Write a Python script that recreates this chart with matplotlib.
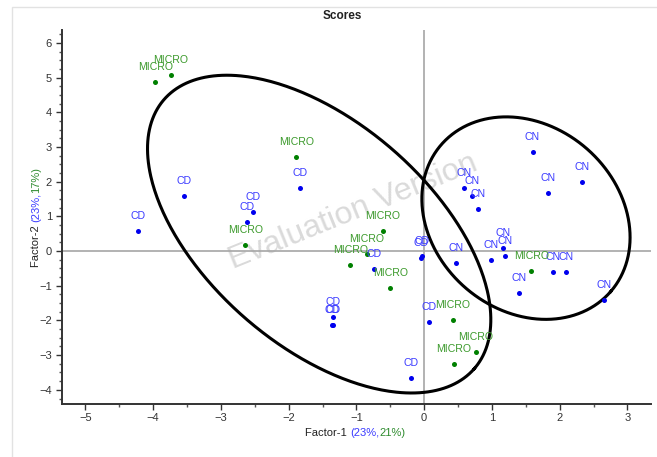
import matplotlib
matplotlib.use('Agg')
import matplotlib.pyplot as plt
import numpy as np
from matplotlib.patches import Rectangle
from matplotlib.ticker import MultipleLocator

plt.rcParams['font.family'] = ['Liberation Sans', 'DejaVu Sans']

# Factor scores
cd_x = [-4.23, -3.55, -2.52, -2.61, -1.83, -0.74, -0.05, -0.03, -1.35, -1.36, -1.34, 0.07, -0.20]
cd_y = [0.59, 1.58, 1.14, 0.83, 1.82, -0.52, -0.21, -0.14, -1.91, -2.13, -2.13, -2.05, -3.66]
cn_x = [1.60, 2.33, 1.83, 0.59, 0.70, 0.79, 1.17, 1.19, 0.47, 0.99, 1.90, 2.09, 1.40, 2.66]
cn_y = [2.86, 1.98, 1.68, 1.81, 1.58, 1.22, 0.10, -0.13, -0.34, -0.27, -0.60, -0.60, -1.22, -1.42]
micro_x = [-3.74, -3.97, -1.89, -2.64, -0.61, -0.85, -1.09, -0.50, 0.42, 0.76, 0.44, 1.58]
micro_y = [5.09, 4.87, 2.70, 0.17, 0.59, -0.07, -0.39, -1.06, -1.98, -2.91, -3.26, -0.57]

groups = [
    ('CD', cd_x, cd_y, '#0000ee', '#3a3aff'),
    ('CN', cn_x, cn_y, '#0000ee', '#3a3aff'),
    ('MICRO', micro_x, micro_y, '#008000', '#3c9a2c'),
]

# group ellipses: centre, first and second semi-axis vectors (data units)
ellipses = [
    ((-1.55, 0.49), (2.29, -3.88), (-1.085, -2.435)),
    ((1.503, 0.951), (1.253, -2.112), (-0.890, -2.015)),
]

fig = plt.figure(figsize=(6.57, 4.57), dpi=100)
ax = fig.add_axes([0.094, 0.1166, 0.897, 0.8174])

# outer light frame
fig.patches.append(Rectangle((12 / 657, -0.1), 1.2, 1.1 - 7 / 457, transform=fig.transFigure,
                             fill=False, edgecolor='#e2e2e2', lw=1.0))

ax.set_xlim(-5.35, 3.35)
ax.set_ylim(-4.4, 6.37)

ax.axhline(0, color='#a6a6a6', lw=1.2, zorder=1)
ax.axvline(0, color='#a6a6a6', lw=1.2, zorder=1)

# watermark
ax.text(-1.05, 1.12, 'Evaluation Version', rotation=22, fontsize=23, color='#dadada',
        ha='center', va='center', zorder=0.5)

for name, xs, ys, dot_col, lab_col in groups:
    ax.scatter(xs, ys, s=13, color=dot_col, zorder=3, linewidths=0)
    for x, y in zip(xs, ys):
        ax.annotate(name, (x, y), xytext=(0, 10.8), textcoords='offset points',
                    ha='center', va='center', fontsize=7.6, color=lab_col, zorder=4)

t = np.linspace(0, 2 * np.pi, 400)
for c, u, v in ellipses:
    ex = c[0] + u[0] * np.cos(t) + v[0] * np.sin(t)
    ey = c[1] + u[1] * np.cos(t) + v[1] * np.sin(t)
    ax.plot(ex, ey, color='black', lw=2.2, zorder=2)

for s in ['top', 'right']:
    ax.spines[s].set_visible(False)
for s in ['left', 'bottom']:
    ax.spines[s].set_color('#333333')
    ax.spines[s].set_linewidth(1.4)

ax.set_xticks(np.arange(-5, 4, 1))
ax.set_yticks(np.arange(-4, 7, 1))
ax.xaxis.set_minor_locator(MultipleLocator(0.5))
ax.yaxis.set_minor_locator(MultipleLocator(0.25))
ax.tick_params(which='major', length=4, width=1, color='#333333', labelsize=8,
               labelcolor='#333333', pad=3)
ax.tick_params(which='minor', length=2.5, width=1, color='#555555')

fig.text(342 / 657, 1 - 16 / 457, 'Scores', ha='center', va='center', fontsize=8.5,
         fontweight='bold', color='#222222')

# multi-coloured axis labels
fig.canvas.draw()
renderer = fig.canvas.get_renderer()


def color_text(x, y, parts, rotation=0):
    # lay out the pieces one after another, in pixels
    widths = []
    for s, col in parts:
        tmp = fig.text(0, 0, s, fontsize=8, rotation=rotation)
        bb = tmp.get_window_extent(renderer)
        widths.append(bb.height if rotation else bb.width)
        tmp.remove()
    total = sum(widths)
    pos = -total / 2
    for (s, col), w in zip(parts, widths):
        if rotation:
            px, py = x, y + pos + w / 2
        else:
            px, py = x + pos + w / 2, y
        fig.text(px / 657, 1 - py / 457, s, fontsize=8, color=col, rotation=rotation,
                 ha='center', va='center')
        pos += w
    return total


color_text(355, 433, [('Factor-1 ', '#222222'), ('(23%,', '#3a3aff'), ('21%)', '#2e8b2e')])
# vertical: y grows downward in pixels, so reverse order for bottom-to-top reading
fig.texts  # noqa
parts_y = [('Factor-2 ', '#222222'), ('(23%,', '#3a3aff'), ('17%)', '#2e8b2e')]
widths = []
for s, col in parts_y:
    tmp = fig.text(0, 0, s, fontsize=8, rotation=90)
    widths.append(tmp.get_window_extent(renderer).height)
    tmp.remove()
pos = 217 + sum(widths) / 2
for (s, col), w in zip(parts_y, widths):
    fig.text(36 / 657, 1 - (pos - w / 2) / 457, s, fontsize=8, color=col, rotation=90,
             ha='center', va='center')
    pos -= w

fig.savefig('out.png', dpi=100)
